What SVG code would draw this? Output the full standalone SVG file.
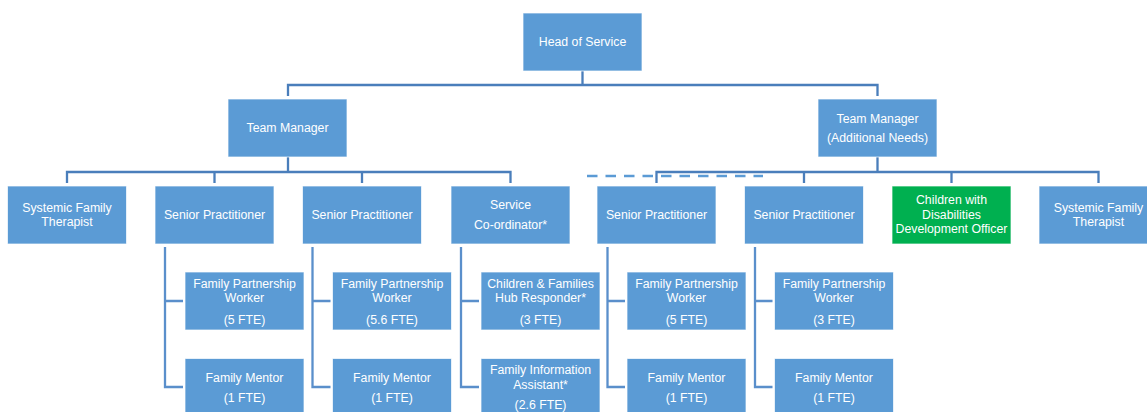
<svg xmlns="http://www.w3.org/2000/svg" width="1147" height="412" viewBox="0 0 1147 412">
<style>
.box{fill:#5B9BD5;stroke:#FFFFFF;stroke-width:1;stroke-opacity:0.7}
.green{fill:#00B050;stroke:#FFFFFF;stroke-width:1;stroke-opacity:0.7}
text{font-family:"Liberation Sans",Arial,sans-serif;font-size:12.3px;fill:#FFFFFF;text-anchor:middle}
.c1{fill:none;stroke:#4A7EBB;stroke-width:2.3}
.c2{fill:none;stroke:#5A8FCB;stroke-width:2.3}
.dash{fill:none;stroke:#5B9BD5;stroke-width:2.3;stroke-dasharray:10.5 8}
</style>
<g id="connectors">
<path class="c1" d="M582.5 71V85M288 96V85H877.5V96"/>
<path class="c1" d="M288 157V172M67 183V172H510.5V183M214.5 172V183M362 172V183"/>
<path class="c1" d="M877.5 157V172M656.5 183V172H1098.5V183M804 172V183M951.5 172V183"/>
<path class="dash" d="M587 176H763"/>
<path class="c2" d="M165 247V387H183M165 301H183"/>
<path class="c2" d="M312.5 247V387H330.5M312.5 301H330.5"/>
<path class="c2" d="M461 247V387H479M461 301H479"/>
<path class="c2" d="M607.5 247V387H625M607.5 301H625"/>
<path class="c2" d="M755 247V387H772.5M755 301H772.5"/>
</g>
<g id="head"><rect class="box" x="523" y="13" width="119" height="58"/><text x="582.5" y="46.4">Head of Service</text></g>
<g id="tm1"><rect class="box" x="228" y="99" width="119" height="58"/><text x="287.5" y="132.4">Team Manager</text></g>
<g id="tm2"><rect class="box" x="818" y="99" width="119" height="58"/><text x="877.5" y="122.7">Team Manager</text><text x="877.5" y="142.1">(Additional Needs)</text></g>
<g id="sft1"><rect class="box" x="7.5" y="186" width="119" height="58"/><text x="67" y="211.7">Systemic Family</text><text x="67" y="225.7">Therapist</text></g>
<g id="sp1"><rect class="box" x="155" y="186" width="119" height="58"/><text x="214.5" y="219">Senior Practitioner</text></g>
<g id="sp2"><rect class="box" x="302.5" y="186" width="119" height="58"/><text x="362" y="219">Senior Practitioner</text></g>
<g id="sc"><rect class="box" x="451" y="186" width="119" height="58"/><text x="510.5" y="208.7">Service</text><text x="510.5" y="228.7">Co-ordinator*</text></g>
<g id="sp3"><rect class="box" x="597" y="186" width="119" height="58"/><text x="656.5" y="219">Senior Practitioner</text></g>
<g id="sp4"><rect class="box" x="744.5" y="186" width="119" height="58"/><text x="804" y="219">Senior Practitioner</text></g>
<g id="cwd"><rect class="green" x="892" y="186" width="119" height="58"/><text x="951.5" y="204.4">Children with</text><text x="951.5" y="218.7">Disabilities</text><text x="951.5" y="233.4">Development Officer</text></g>
<g id="sft2"><rect class="box" x="1039" y="186" width="119" height="58"/><text x="1098.5" y="211.7">Systemic Family</text><text x="1098.5" y="225.7">Therapist</text></g>
<g id="fpw1"><rect class="box" x="185" y="272" width="119" height="58"/><text x="244.5" y="288.1">Family Partnership</text><text x="244.5" y="302.4">Worker</text><text x="244.5" y="323.7">(5 FTE)</text></g>
<g id="fm1"><rect class="box" x="185" y="358.5" width="119" height="58"/><text x="244.5" y="381.7">Family Mentor</text><text x="244.5" y="402.1">(1 FTE)</text></g>
<g id="fpw2"><rect class="box" x="332.5" y="272" width="119" height="58"/><text x="392" y="288.1">Family Partnership</text><text x="392" y="302.4">Worker</text><text x="392" y="323.7">(5.6 FTE)</text></g>
<g id="fm2"><rect class="box" x="332.5" y="358.5" width="119" height="58"/><text x="392" y="381.7">Family Mentor</text><text x="392" y="402.1">(1 FTE)</text></g>
<g id="hub"><rect class="box" x="481" y="272" width="119" height="58"/><text x="540.5" y="288.1">Children &amp; Families</text><text x="540.5" y="302.4">Hub Responder*</text><text x="540.5" y="323.7">(3 FTE)</text></g>
<g id="fia"><rect class="box" x="481" y="358.5" width="119" height="58"/><text x="540.5" y="374.4">Family Information</text><text x="540.5" y="388.7">Assistant*</text><text x="540.5" y="409.4">(2.6 FTE)</text></g>
<g id="fpw3"><rect class="box" x="627" y="272" width="119" height="58"/><text x="686.5" y="288.1">Family Partnership</text><text x="686.5" y="302.4">Worker</text><text x="686.5" y="323.7">(5 FTE)</text></g>
<g id="fm3"><rect class="box" x="627" y="358.5" width="119" height="58"/><text x="686.5" y="381.7">Family Mentor</text><text x="686.5" y="402.1">(1 FTE)</text></g>
<g id="fpw4"><rect class="box" x="774.5" y="272" width="119" height="58"/><text x="834" y="288.1">Family Partnership</text><text x="834" y="302.4">Worker</text><text x="834" y="323.7">(3 FTE)</text></g>
<g id="fm4"><rect class="box" x="774.5" y="358.5" width="119" height="58"/><text x="834" y="381.7">Family Mentor</text><text x="834" y="402.1">(1 FTE)</text></g>
</svg>
